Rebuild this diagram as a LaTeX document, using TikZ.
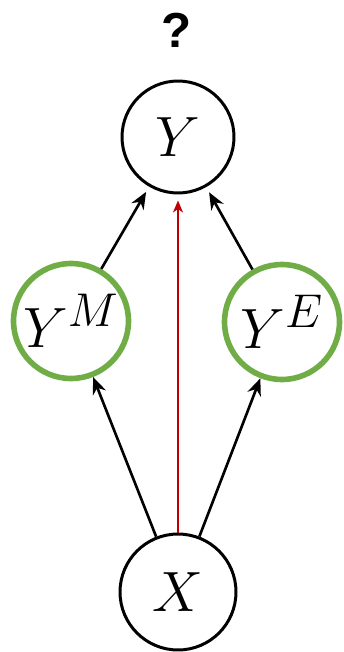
\documentclass[tikz,border=0pt]{standalone}
\usepackage{amsmath}
\usepackage{graphicx}
\usepackage{fontspec}
\newfontfamily\qfont{Liberation Sans}
\usetikzlibrary{arrows.meta}
\definecolor{nodegreen}{RGB}{112,173,71}
\definecolor{linkred}{RGB}{192,0,0}
\newcommand{\bigvar}[1]{\scalebox{1.3}{$#1$}}

\begin{document}
\begin{tikzpicture}[x=0.02cm, y=-0.02cm,
    var/.style={circle, draw, line width=1.7pt, inner sep=0pt,
      font=\fontsize{24.88}{30}\selectfont},
    obs/.style={var, draw=nodegreen, line width=3.2pt},
    link/.style={line width=1.5pt,
      -{Stealth[length=0.34cm, width=0.28cm, inset=0.11cm]}},
    direct/.style={linkred, line width=1.1pt,
      -{Stealth[length=0.24cm, width=0.2cm, inset=0.07cm]}}]
  \useasboundingbox (0, 0) rectangle (343, 652);

  % 上方为 Y，中间为两个中介变量，下方为 X
  \node[var, minimum size=2.24cm] (Y)  at (178, 137) {\bigvar{Y}};
  \node[obs, minimum size=2.3cm]  (YM) at (71, 321)  {\bigvar{Y^M}};
  \node[obs, minimum size=2.3cm]  (YE) at (282, 322) {\bigvar{Y^E}};
  \node[var, minimum size=2.32cm] (X)  at (178, 592) {\bigvar{X}};
  \node[font=\qfont\bfseries\fontsize{28}{32}\selectfont] (Q) at (177, 30) {?};

  % 经由 Y^M、Y^E 的路径
  \draw[link] (X) -- (YM);
  \draw[link] (X) -- (YE);
  \draw[link, shorten >=0.12cm] (YM) -- (Y);
  \draw[link, shorten >=0.12cm] (YE) -- (Y);

  % 直接效应
  \draw[direct, shorten >=0.12cm] (X) -- (Y);
\end{tikzpicture}
\end{document}
